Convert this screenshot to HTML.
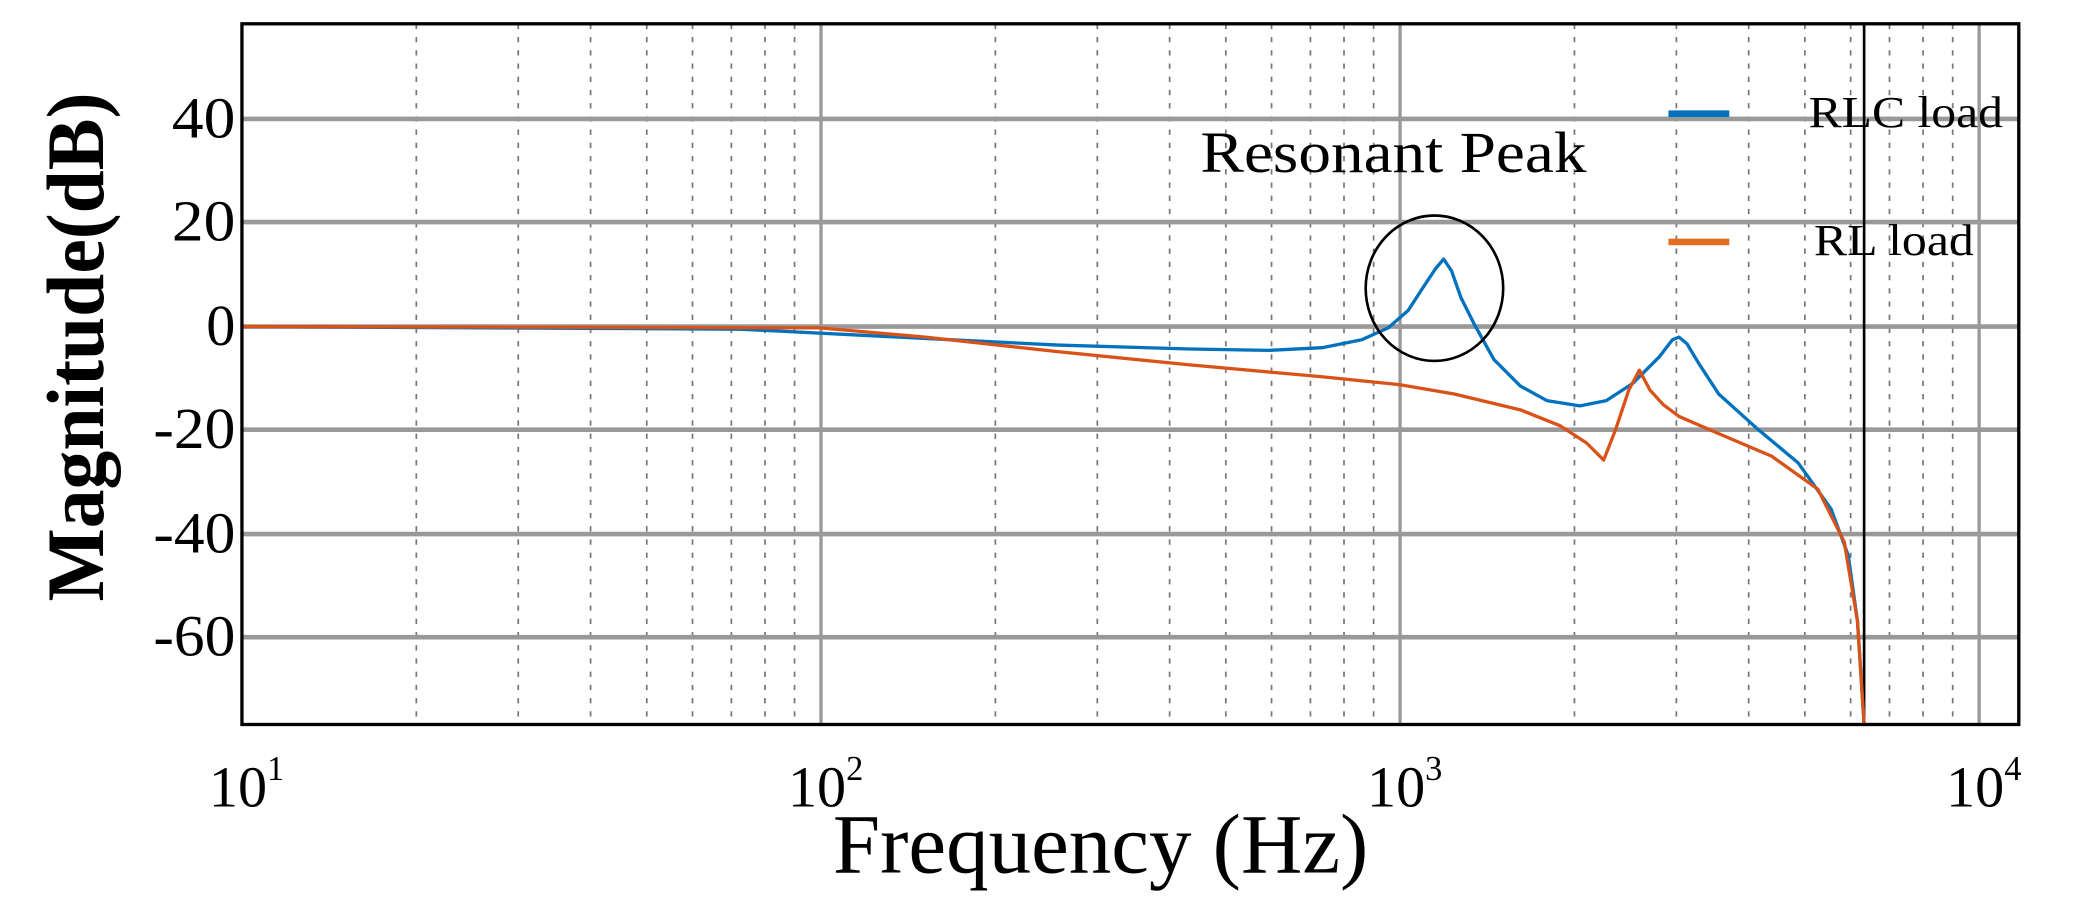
<!DOCTYPE html>
<html><head><meta charset="utf-8"><style>html,body{margin:0;padding:0;background:#fff}</style></head>
<body>
<svg width="2073" height="899" viewBox="0 0 1568 680" xmlns="http://www.w3.org/2000/svg" font-family="Liberation Serif, serif">
<rect width="1568" height="680" fill="#fff"/>
<path stroke="#777" stroke-width="1.3" stroke-dasharray="4,6" fill="none" d="M314.9,18V548M392,18V548M446.7,18V548M489.2,18V548M523.8,18V548M553.2,18V548M578.6,18V548M601,18V548M752.9,18V548M830,18V548M884.7,18V548M927.2,18V548M961.8,18V548M991.2,18V548M1016.6,18V548M1039,18V548M1190.9,18V548M1268,18V548M1322.7,18V548M1365.2,18V548M1399.8,18V548M1429.2,18V548M1454.6,18V548M1477,18V548"/>
<g stroke="#999" stroke-width="2.5">
<line x1="621" y1="18" x2="621" y2="548"/><line x1="1059" y1="18" x2="1059" y2="548"/><line x1="1497" y1="18" x2="1497" y2="548"/>
</g>
<g stroke="#999" stroke-width="3.5">
<line x1="183" y1="90" x2="1527" y2="90"/><line x1="183" y1="168" x2="1527" y2="168"/><line x1="183" y1="247" x2="1527" y2="247"/>
<line x1="183" y1="325" x2="1527" y2="325"/><line x1="183" y1="404" x2="1527" y2="404"/><line x1="183" y1="482" x2="1527" y2="482"/>
</g>
<line x1="1410" y1="18" x2="1410" y2="548" stroke="#000" stroke-width="2"/>
<path fill="none" stroke="#0072BD" stroke-width="2.5" stroke-linejoin="round" d="M183,247 L560,249 L700,256 L800,261 L900,264 L960,265 L1000,263 L1030,257 L1050,248 L1065,235 L1078,215 L1086,203 L1092,196 L1098,205 L1105,225 L1115,245 L1130,272 L1150,292 L1170,303 L1195,307 L1215,303 L1235,290 L1255,270 L1265,257 L1270,255 L1276,260 L1285,275 L1300,298 L1330,325 L1360,350 L1385,385 L1398,420 L1405,470 L1410,548"/>
<path fill="none" stroke="#D95319" stroke-width="2.5" stroke-linejoin="round" d="M183,247 L620,248 L700,255 L800,266 L900,276 L1000,285 L1059,291 L1100,298 L1150,310 L1180,322 L1200,335 L1213,348 L1222,325 L1232,295 L1240,280 L1248,295 L1258,306 L1270,315 L1300,328 L1340,345 L1375,370 L1395,410 L1405,470 L1410,548"/>
<ellipse cx="1085" cy="218" rx="52" ry="55" fill="none" stroke="#000" stroke-width="2"/>
<rect x="183" y="18" width="1344" height="530" fill="none" stroke="#000" stroke-width="2.5"/>
<line x1="1262" y1="86" x2="1308" y2="86" stroke="#0072BD" stroke-width="5"/>
<line x1="1262" y1="183" x2="1308" y2="183" stroke="#E07020" stroke-width="5"/>
<text x="1368" y="96" font-size="34" textLength="147" lengthAdjust="spacingAndGlyphs">RLC load</text>
<text x="1372" y="193" font-size="34" textLength="121" lengthAdjust="spacingAndGlyphs">RL load</text>
<text x="908" y="130" font-size="44" textLength="292" lengthAdjust="spacingAndGlyphs">Resonant Peak</text>
<g font-size="44" text-anchor="end">
<text x="178" y="104" textLength="48" lengthAdjust="spacingAndGlyphs">40</text>
<text x="178" y="182" textLength="48" lengthAdjust="spacingAndGlyphs">20</text>
<text x="178" y="261">0</text>
<text x="178" y="339" textLength="62" lengthAdjust="spacingAndGlyphs">-20</text>
<text x="178" y="418" textLength="62" lengthAdjust="spacingAndGlyphs">-40</text>
<text x="178" y="496" textLength="62" lengthAdjust="spacingAndGlyphs">-60</text>
</g>
<g font-size="44">
<text x="158" y="610">10<tspan font-size="26" dy="-20">1</tspan></text>
<text x="596" y="610">10<tspan font-size="26" dy="-20">2</tspan></text>
<text x="1034" y="610">10<tspan font-size="26" dy="-20">3</tspan></text>
<text x="1472" y="610">10<tspan font-size="26" dy="-20">4</tspan></text>
</g>
<text x="630" y="660" font-size="64" textLength="405" lengthAdjust="spacingAndGlyphs">Frequency  (Hz)</text>
<text transform="translate(78,455) rotate(-90)" font-size="62" font-weight="bold" textLength="385" lengthAdjust="spacingAndGlyphs">Magnitude(dB)</text>
</svg>
</body></html>
